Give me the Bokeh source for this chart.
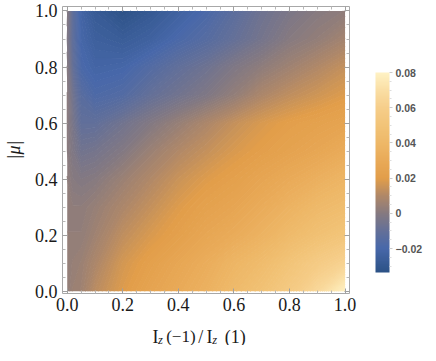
import numpy as np
from bokeh.plotting import figure
from bokeh.layouts import column
from bokeh.models import (LinearColorMapper, ColorBar, FixedTicker, LinearAxis,
                          Label, Range1d)
from bokeh.embed import file_html
from bokeh.resources import INLINE

# ---------------- data ----------------
x_samples = [0.0, 0.02, 0.05, 0.1, 0.2, 0.3, 0.4, 0.5, 0.6, 0.7, 0.8, 0.9, 1.0]
y_samples = [0.0, 0.1, 0.2, 0.3, 0.4, 0.5, 0.6, 0.7, 0.8, 0.9, 1.0]

row_y00 = [0.003, 0.005, 0.006, 0.012, 0.019, 0.025, 0.030, 0.035, 0.042, 0.048, 0.056, 0.066, 0.0795]
row_y01 = [0.003, 0.004, 0.005, 0.009, 0.017, 0.022, 0.027, 0.032, 0.038, 0.043, 0.050, 0.057, 0.063]
row_y02 = [0.003, 0.003, 0.003, 0.006, 0.013, 0.018, 0.022, 0.027, 0.031, 0.036, 0.042, 0.047, 0.051]
row_y03 = [0.002, 0.002, 0.002, 0.004, 0.009, 0.014, 0.019, 0.023, 0.026, 0.031, 0.036, 0.041, 0.044]
row_y04 = [0.002, 0.000, -0.001, 0.000, 0.005, 0.010, 0.015, 0.019, 0.022, 0.026, 0.030, 0.034, 0.038]
row_y05 = [0.001, -0.002, -0.006, -0.005, -0.001, 0.005, 0.010, 0.014, 0.018, 0.021, 0.024, 0.027, 0.031]
row_y06 = [0.001, -0.004, -0.011, -0.011, -0.006, -0.001, 0.004, 0.009, 0.014, 0.018, 0.021, 0.023, 0.025]
row_y07 = [0.001, -0.006, -0.014, -0.018, -0.016, -0.010, -0.006, -0.002, 0.003, 0.009, 0.013, 0.016, 0.019]
row_y08 = [0.000, -0.010, -0.019, -0.022, -0.021, -0.016, -0.011, -0.007, -0.002, 0.002, 0.006, 0.010, 0.014]
row_y09 = [-0.002, -0.012, -0.021, -0.025, -0.027, -0.024, -0.019, -0.015, -0.010, -0.005, 0.000, 0.003, 0.007]
row_y10 = [0.000, -0.012, -0.022, -0.028, -0.033, -0.029, -0.024, -0.019, -0.013, -0.007, -0.003, 0.000, 0.002]

x_ticks = [0.0, 0.2, 0.4, 0.6, 0.8, 1.0]
x_tick_labels = ["0.0", "0.2", "0.4", "0.6", "0.8", "1.0"]
y_ticks = [0.0, 0.2, 0.4, 0.6, 0.8, 1.0]
y_tick_labels = ["0.0", "0.2", "0.4", "0.6", "0.8", "1.0"]
minor_ticks = [0.05, 0.1, 0.15, 0.25, 0.3, 0.35, 0.45, 0.5, 0.55,
               0.65, 0.7, 0.75, 0.85, 0.9, 0.95]

cb_low, cb_high = -0.0336, 0.08
cb_ticks = [-0.02, 0.0, 0.02, 0.04, 0.06, 0.08]
cb_tick_labels = ["\u22120.02", "0", "0.02", "0.04", "0.06", "0.08"]
cb_minor = [-0.03, -0.025, -0.015, -0.01, -0.005, 0.005, 0.01, 0.015,
            0.025, 0.03, 0.035, 0.045, 0.05, 0.055, 0.065, 0.07, 0.075]

grad_vals = [-0.0336, -0.02, -0.01, 0.0, 0.01, 0.02, 0.03, 0.04, 0.05, 0.06, 0.07, 0.08]
grad_cols = ["#2C5286", "#4868AA", "#647098", "#867A80", "#B08868", "#E29E4A",
             "#E9AA58", "#EEB868", "#F2C478", "#F6CE8A", "#FADEA4", "#FFF2C4"]

# ---------------- build ----------------
def hex2rgb(h):
    h = h.lstrip("#")
    return [int(h[i:i + 2], 16) for i in (0, 2, 4)]

rgb = np.array([hex2rgb(c) for c in grad_cols], dtype=float)

def color_at(v):
    v = min(max(v, cb_low), cb_high)
    r = np.interp(v, grad_vals, rgb[:, 0])
    g = np.interp(v, grad_vals, rgb[:, 1])
    b = np.interp(v, grad_vals, rgb[:, 2])
    return "#%02x%02x%02x" % (int(round(r)), int(round(g)), int(round(b)))

palette = [color_at(v) for v in np.linspace(cb_low, cb_high, 256)]
mapper = LinearColorMapper(palette=palette, low=cb_low, high=cb_high)

Z = np.array([row_y00, row_y01, row_y02, row_y03, row_y04, row_y05,
              row_y06, row_y07, row_y08, row_y09, row_y10])

eps = 2e-4
levels = list(np.linspace(cb_low - eps, cb_high + eps, 116))
band_colors = [color_at(0.5 * (a + b)) for a, b in zip(levels[:-1], levels[1:])]
level_colors = [color_at(v) for v in levels]

FIG_W = 428
x_rng = Range1d(-0.017, 1.016)

p = figure(width=FIG_W, height=318,
           x_range=x_rng, y_range=Range1d(-0.008, 1.016),
           output_backend="svg", toolbar_location=None,
           min_border_left=50, min_border_top=6, min_border_bottom=25,
           min_border_right=79)
p.grid.visible = False
p.outline_line_color = "#a8a8a8"
p.background_fill_color = "white"

p.contour(x=np.array(x_samples), y=np.array(y_samples), z=Z, levels=levels,
          fill_color=band_colors, line_color=level_colors, line_width=1.2)

serif = "Liberation Serif"

def style_axis(ax, ticks, labels, show_labels=True):
    ax.ticker = FixedTicker(ticks=ticks, minor_ticks=minor_ticks)
    ax.axis_line_color = None
    ax.major_tick_line_color = "#a0a0a0"
    ax.minor_tick_line_color = "#b8b8b8"
    ax.major_tick_in = 5
    ax.major_tick_out = 0
    ax.minor_tick_in = 3
    ax.minor_tick_out = 0
    if show_labels:
        ax.major_label_overrides = {t: l for t, l in zip(ticks, labels)}
        ax.major_label_text_font = serif
        ax.major_label_text_font_size = "18px"
        ax.major_label_text_color = "#1a1a1a"
    else:
        ax.major_label_overrides = {t: "" for t in ticks}
        ax.major_label_text_font_size = "1px"
        ax.major_label_standoff = 0

style_axis(p.xaxis[0], x_ticks, x_tick_labels)
p.xaxis[0].major_label_standoff = 4
style_axis(p.yaxis[0], y_ticks, y_tick_labels)
p.yaxis[0].major_label_standoff = 5
p.yaxis[0].axis_label = "|\u03bc|"
p.yaxis[0].axis_label_text_font = serif
p.yaxis[0].axis_label_text_font_size = "18px"
p.yaxis[0].axis_label_text_font_style = "italic"
p.yaxis[0].axis_label_text_color = "#1a1a1a"
p.yaxis[0].axis_label_standoff = 8

top_ax = LinearAxis()
style_axis(top_ax, x_ticks, x_tick_labels, show_labels=False)
p.add_layout(top_ax, "above")
right_ax = LinearAxis()
style_axis(right_ax, y_ticks, y_tick_labels, show_labels=False)
p.add_layout(right_ax, "right")

cb = ColorBar(color_mapper=mapper, width=14, height=200,
              ticker=FixedTicker(ticks=cb_ticks, minor_ticks=cb_minor),
              major_label_overrides={t: l for t, l in zip(cb_ticks, cb_tick_labels)},
              major_label_text_font="Liberation Sans",
              major_label_text_font_size="10.5px",
              major_label_text_font_style="bold",
              major_label_text_color="#555555",
              major_tick_line_color="#cccccc", major_tick_in=0, major_tick_out=3,
              minor_tick_line_color="#dddddd", minor_tick_in=0, minor_tick_out=2,
              label_standoff=3, bar_line_color=None, border_line_color=None,
              background_fill_color=None, padding=0, margin=0,
              location=(26, 21))
p.add_layout(cb, "right")

# x-axis title  I_z(-1) / I_z(1): a strip below the plot sharing its x range
t = figure(width=FIG_W, height=27, x_range=x_rng, y_range=Range1d(0, 27),
           output_backend="svg", toolbar_location=None, min_border=0,
           x_axis_type=None, y_axis_type=None)
t.outline_line_color = None
t.grid.visible = False
lab_kw = dict(text_font=serif, text_color="#1a1a1a", text_baseline="alphabetic")
big = "18px"
small = "12.5px"
base_y, sub_y = 9, 6
t.add_layout(Label(x=0.3067, y=base_y, text="I", text_font_size=big, **lab_kw))
t.add_layout(Label(x=0.3268, y=sub_y, text="z", text_font_size=small,
                   text_font_style="italic", **lab_kw))
t.add_layout(Label(x=0.3561, y=base_y, text="(\u22121)", text_font_size="17px", **lab_kw))
t.add_layout(Label(x=0.4720, y=base_y, text="/", text_font_size=big, **lab_kw))
t.add_layout(Label(x=0.5010, y=base_y, text="I", text_font_size=big, **lab_kw))
t.add_layout(Label(x=0.5217, y=sub_y, text="z", text_font_size=small,
                   text_font_style="italic", **lab_kw))
t.add_layout(Label(x=0.5669, y=base_y, text="(1)", text_font_size=big, **lab_kw))

layout = column(p, t, spacing=0)
open("out.html", "w").write(file_html(layout, INLINE))
